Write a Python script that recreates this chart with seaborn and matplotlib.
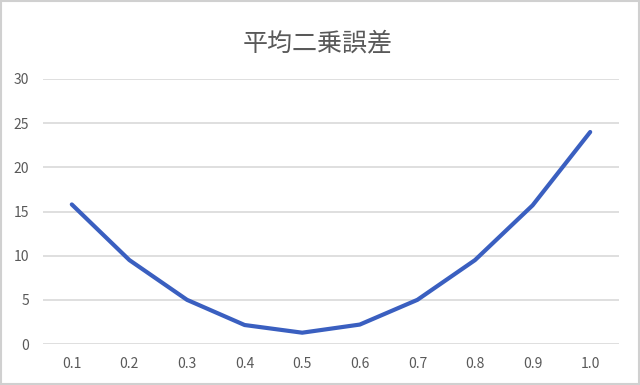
import matplotlib
matplotlib.use('Agg')
import matplotlib.pyplot as plt
import seaborn as sns
import pandas as pd

ratios = ['0.1', '0.2', '0.3', '0.4', '0.5', '0.6', '0.7', '0.8', '0.9', '1.0']
mse = [15.8, 9.5, 5.0, 2.15, 1.28, 2.2, 5.0, 9.5, 15.7, 24.0]
y_ticks = [0, 5, 10, 15, 20, 25, 30]

sns.set_theme(style='white')
plt.rcParams['font.family'] = ['Noto Sans CJK JP', 'DejaVu Sans']

df = pd.DataFrame({'ratio': ratios, 'mse': mse})

fig = plt.figure(figsize=(6.4, 3.85), dpi=100)
ax = fig.add_axes([43 / 640, 41 / 385, 576 / 640, 265 / 385])

sns.lineplot(data=df, x='ratio', y='mse', ax=ax, color='#3A5FC0',
             linewidth=3, solid_capstyle='round', sort=False)

ax.set_xlim(-0.5, len(ratios) - 0.5)
ax.set_ylim(0, 30)
ax.set_yticks(y_ticks)
ax.yaxis.grid(True, color='#D9D9D9', linewidth=1.2)
ax.set_axisbelow(True)
for side in ['top', 'right', 'left', 'bottom']:
    ax.spines[side].set_visible(False)
ax.tick_params(axis='both', length=0, labelsize=10, labelcolor='#595959')
ax.tick_params(axis='x', pad=9)
ax.tick_params(axis='y', pad=10)
ax.set_xlabel('')
ax.set_ylabel('')

fig.text(0.497, 0.888, '平均二乗誤差', ha='center', va='center',
         fontsize=18, color='#595959')

# outer frame like the chart border
fig.patches.append(plt.Rectangle((0.002, 0.003), 0.996, 0.994, transform=fig.transFigure,
                                 fill=False, edgecolor='#D0D0D0', linewidth=1.5))

fig.savefig('out.png', dpi=100)
